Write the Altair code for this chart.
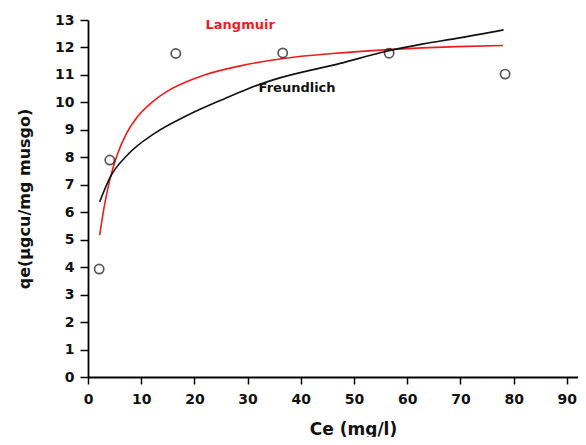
import altair as alt
import pandas as pd

# observed data points
ce_obs = [2.1, 4.1, 16.5, 36.6, 56.6, 78.4]
qe_obs = [3.93, 7.9, 11.78, 11.8, 11.79, 11.03]

# Langmuir fitted curve
lang_x = [2.2, 3.0, 3.8, 4.6, 5.6, 7.2, 9.4, 12.0, 15.0, 18.5, 21.9, 28.6, 36.7, 46.0, 56.5, 69.3, 78.0]
lang_y = [5.17, 6.15, 6.93, 7.55, 8.15, 8.85, 9.5, 10.0, 10.42, 10.75, 11.0, 11.33, 11.6, 11.78, 11.92, 12.03, 12.07]

# Freundlich fitted curve
freu_x = [2.2, 4.1, 7.5, 12.5, 18.8, 25.1, 30.1, 34.8, 47.4, 56.1, 63.0, 69.3, 78.1]
freu_y = [6.38, 7.25, 8.1, 8.87, 9.54, 10.09, 10.5, 10.82, 11.42, 11.86, 12.13, 12.33, 12.64]

# annotation labels
label_text = ["Langmuir", "Freundlich"]
label_x = [28.6, 39.3]
label_y = [12.82, 10.52]
label_color = ["#ee1c1c", "#111111"]

x_ticks = list(range(0, 91, 10))
y_ticks = list(range(0, 14))

FONT = "DejaVu Sans"

obs = pd.DataFrame({"ce": ce_obs, "qe": qe_obs})
lang = pd.DataFrame({"ce": lang_x, "qe": lang_y})
freu = pd.DataFrame({"ce": freu_x, "qe": freu_y})
labels = pd.DataFrame({"t": label_text, "ce": label_x, "qe": label_y, "c": label_color})

xs = alt.Scale(domain=[0, 92.1], nice=False, zero=False)
ys = alt.Scale(domain=[0, 13], nice=False)

x_axis = alt.Axis(
    values=x_ticks, tickCount=10, title="Ce (mg/l)", grid=False,
    tickSize=7, tickWidth=1.5, tickColor="black",
    domainColor="black", domainWidth=1.8,
    labelFont=FONT, labelFontSize=14, labelFontWeight="bold", labelColor="#111",
    labelPadding=8, labelFlush=False, labelOverlap=False,
    titleFont=FONT, titleFontSize=17, titleFontWeight="bold", titleColor="#111",
    titleX=265, titleY=57, titleBaseline="alphabetic", titleAlign="center",
)
y_axis = alt.Axis(
    values=y_ticks, tickCount=14, title="qe(μgcu/mg musgo)", grid=False,
    tickSize=8, tickWidth=1.5, tickColor="black",
    domainColor="black", domainWidth=1.8,
    labelFont=FONT, labelFontSize=14, labelFontWeight="bold", labelColor="#111",
    labelPadding=6, labelFlush=False, labelOverlap=False,
    titleFont=FONT, titleFontSize=16, titleFontWeight="bold", titleColor="#111",
    titleX=-59, titleY=178.5, titleAngle=-90, titleBaseline="alphabetic", titleAlign="center",
)

X = alt.X("ce:Q", scale=xs, axis=x_axis)
Y = alt.Y("qe:Q", scale=ys, axis=y_axis)

lang_line = alt.Chart(lang).mark_line(color="#ee1c1c", strokeWidth=1.6, interpolate="monotone").encode(x=X, y=Y)
freu_line = alt.Chart(freu).mark_line(color="#111111", strokeWidth=1.6, interpolate="monotone").encode(x=X, y=Y)
points = alt.Chart(obs).mark_point(shape="circle", filled=False, color="#111", size=85, strokeWidth=1.7).encode(x=X, y=Y)
text = alt.Chart(labels).mark_text(font=FONT, fontSize=13, fontWeight="bold", align="center", baseline="middle").encode(
    x=X, y=Y, text="t:N", color=alt.Color("c:N", scale=None))

chart = alt.layer(lang_line, freu_line, points, text).properties(
    width=490, height=357,
    autosize=alt.AutoSizeParams(type="none"),
    padding={"left": 80, "top": 12, "right": 0, "bottom": 60},
    background="white",
).configure_view(stroke=None)

chart.save("out.html", embed_options={"renderer": "svg", "actions": False})
